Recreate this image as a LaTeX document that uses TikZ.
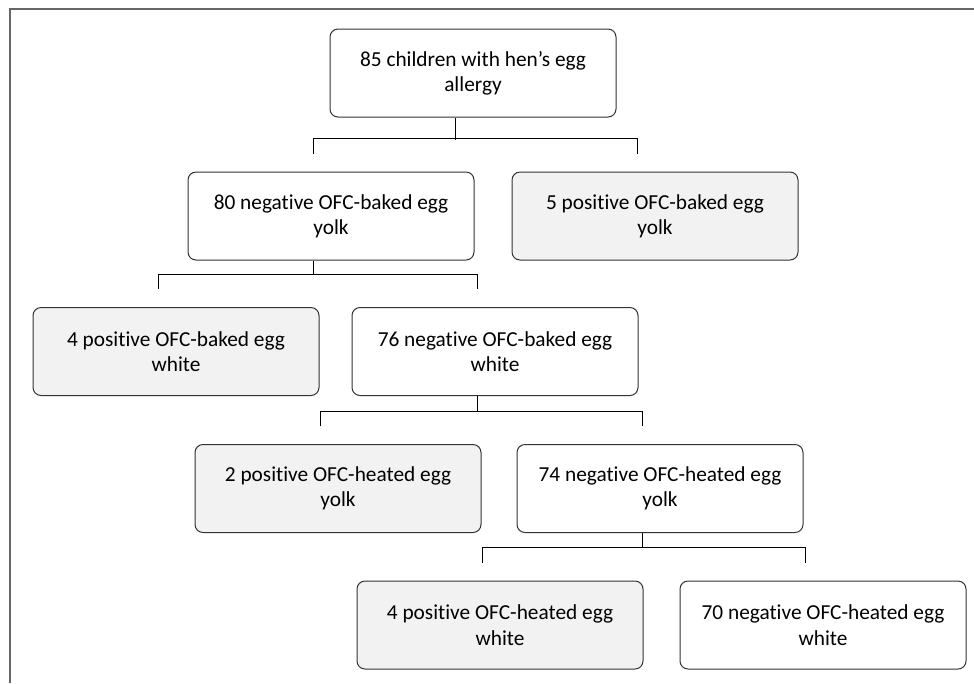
\documentclass[tikz,border=0pt]{standalone}
\usepackage{fontspec}
\setmainfont{Carlito}[Ligatures=NoCommon]
\usetikzlibrary{calc}

\begin{document}
\begin{tikzpicture}[x=0.75pt,y=-0.75pt,
  box/.style={draw=black!80,rounded corners=6pt,line width=0.75pt,
    minimum width=214.5pt,minimum height=66pt,align=center,fill=white,
    font=\fontsize{16}{19}\selectfont},
  posbox/.style={box,fill=black!5},
  conn/.style={line width=0.75pt},
  frame/.style={draw=black!60,line width=1.2pt}]

  \useasboundingbox (0,0) rectangle (974,683);

  \def\dx{-18}
  \def\ya{73}
  \def\yb{216}
  \def\yc{351.5}
  \def\yd{488.5}
  \def\ye{625}

  % outer frame, cut at right and bottom
  \draw[frame] (974,9) -- (10,9) -- (10,683);

  \node[box] (root) at (473,\ya) {85 children with hen’s egg\\allergy};

  \node[box] (negyolk) at (331,\yb) {80 negative OFC-baked egg\\yolk};
  \node[posbox] (posyolk) at (655,\yb) {5 positive OFC-baked egg\\yolk};

  \node[posbox] (poswhite) at (176,\yc) {4 positive OFC-baked egg\\white};
  \node[box] (negwhite) at (495,\yc) {76 negative OFC-baked egg\\white};

  \node[posbox] (posheatyolk) at (338,\yd) {2 positive OFC-heated egg\\yolk};
  \node[box] (negheatyolk) at (660,\yd) {74 negative OFC-heated egg\\yolk};

  \node[posbox] (posheatwhite) at (500,\ye) {4 positive OFC-heated egg\\white};
  \node[box] (negheatwhite) at (823,\ye) {70 negative OFC-heated egg\\white};

  % branches
  \draw[conn] ($(root.south)+(\dx,0)$) -- ++(0,22);
  \draw[conn] ($(negyolk.north)+(\dx,-18)$) -- ++(0,-15) -| ($(posyolk.north)+(\dx,-18)$);

  \draw[conn] ($(negyolk.south)+(\dx,0)$) -- ++(0,14);
  \draw[conn] ($(poswhite.north)+(\dx,-18)$) -- ++(0,-15) -| ($(negwhite.north)+(\dx,-18)$);

  \draw[conn] ($(negwhite.south)+(\dx,0)$) -- ++(0,15);
  \draw[conn] ($(posheatyolk.north)+(\dx,-18)$) -- ++(0,-15) -| ($(negheatyolk.north)+(\dx,-18)$);

  \draw[conn] ($(negheatyolk.south)+(\dx,0)$) -- ++(0,15);
  \draw[conn] ($(posheatwhite.north)+(\dx,-18)$) -- ++(0,-15) -| ($(negheatwhite.north)+(\dx,-18)$);

\end{tikzpicture}
\end{document}
